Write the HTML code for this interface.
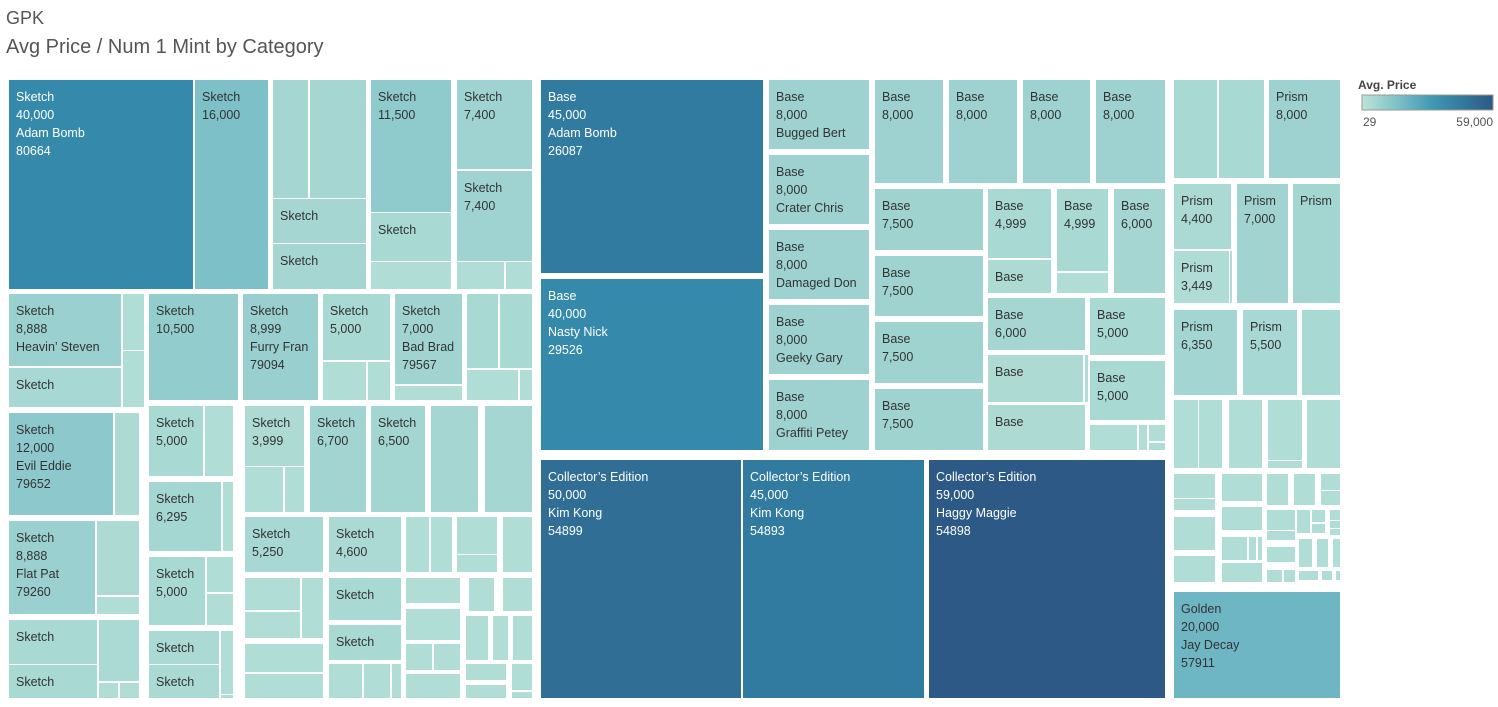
<!DOCTYPE html>
<html><head><meta charset="utf-8">
<style>
body{margin:0;background:#fff;width:1498px;height:707px;overflow:hidden;font-family:"Liberation Sans",sans-serif;}
#t1{position:absolute;left:6px;top:8px;font-size:18px;color:#555;}
#t2{position:absolute;left:6px;top:36px;font-size:20px;color:#555;}
</style></head><body>
<div id="t1">GPK</div>
<div id="t2">Avg Price / Num 1 Mint by Category</div>
<svg id="chart" width="1498" height="707" style="position:absolute;left:0;top:0">
<defs><linearGradient id="lg" x1="0" x2="1"><stop offset="0" stop-color="#bce4d8"/><stop offset="0.27" stop-color="#7ec0c8"/><stop offset="0.55" stop-color="#3d96b2"/><stop offset="1" stop-color="#2c5985"/></linearGradient></defs>
<g id="cells"></g>
<g>
<text x="1358" y="89" font-size="12" font-weight="bold" fill="#444">Avg. Price</text>
<rect x="1362" y="95" width="131" height="15" fill="url(#lg)" stroke="#999"/>
<text x="1363" y="126" font-size="12" fill="#555">29</text>
<text x="1493" y="126" font-size="12" fill="#555" text-anchor="end">59,000</text>
</g>
</svg>
<script>
// Avg price per cell (color), label per cell, and treemap layout rects
const priceMin = 29, priceMax = 59000;
const prices = [
40000,16000,6000,6000,6000,6000,11500,5000,3000,7400,7400,3000,3000,
8888,5500,3000,3000,10500,8999,5000,3000,3000,7000,3000,5000,5000,3000,3000,
12000,4000,8888,4000,3000,5000,5000,4500,3000,3000,
5000,3000,6295,3000,5000,3000,3000,4500,4500,3000,3000,
3999,3000,3000,6700,6500,6000,6000,
5250,4600,3000,3000,3000,3000,3000,3000,3000,3000,5000,5000,3000,3000,3000,
3000,3000,3000,3000,3000,3000,3000,3000,3000,3000,3000,3000,3000,3000,3000,3000,
45000,40000,8000,8000,8000,8000,8000,8000,8000,8000,8000,7500,7500,7500,7500,
4999,4000,4999,3000,6000,6000,5000,4000,3000,5000,4000,3000,3000,3000,3000,
50000,45000,59000,
5000,5000,8000,4400,3449,3000,7000,6500,6350,5500,5000,
3000,3000,3000,3000,3000,3000,3000,3000,3000,3000,3000,3000,3000,
3000,3000,3000,3000,3000,3000,3000,3000,3000,3000,3000,3000,3000,
3000,3000,3000,3000,3000,3000,3000,3000,3000,3000,3000,
20000];
const labels = [
"Sketch|40,000|Adam Bomb|80664","Sketch|16,000","","","Sketch","Sketch","Sketch|11,500","Sketch","","Sketch|7,400","Sketch|7,400","","",
"Sketch|8,888|Heavin’ Steven","Sketch","","","Sketch|10,500","Sketch|8,999|Furry Fran|79094","Sketch|5,000","","","Sketch|7,000|Bad Brad|79567","","","","","",
"Sketch|12,000|Evil Eddie|79652","","Sketch|8,888|Flat Pat|79260","","","Sketch","Sketch","","","",
"Sketch|5,000","","Sketch|6,295","","Sketch|5,000","","","Sketch","Sketch","","",
"Sketch|3,999","","","Sketch|6,700","Sketch|6,500","","",
"Sketch|5,250","Sketch|4,600","","","","","","","","","Sketch","Sketch","","","",
"","","","","","","","","","","","","","","","",
"Base|45,000|Adam Bomb|26087","Base|40,000|Nasty Nick|29526","Base|8,000|Bugged Bert","Base|8,000|Crater Chris","Base|8,000|Damaged Don","Base|8,000|Geeky Gary","Base|8,000|Graffiti Petey","Base|8,000","Base|8,000","Base|8,000","Base|8,000","Base|7,500","Base|7,500","Base|7,500","Base|7,500",
"Base|4,999","Base","Base|4,999","","Base|6,000","Base|6,000","Base|5,000","Base","","Base|5,000","Base","","","","",
"Collector’s Edition|50,000|Kim Kong|54899","Collector’s Edition|45,000|Kim Kong|54893","Collector’s Edition|59,000|Haggy Maggie|54898",
"","","Prism|8,000","Prism|4,400","Prism|3,449","","Prism|7,000","Prism","Prism|6,350","Prism|5,500","",
"","","","","","","","","","","","","",
"","","","","","","","","","","","","",
"","","","","","","","","","","",
"Golden|20,000|Jay Decay|57911"];
const rects = [
[9,80,193,289],[195,80,268,289],[273,80,308,198],[310,80,366,198],[273,199,366,243],[273,244,366,289],[371,80,451,212],[371,213,451,261],[371,262,451,289],[457,80,532,169],[457,171,532,261],[457,262,504,289],[506,262,532,289],
[9,294,121,366],[9,368,121,407],[123,294,144,350],[123,351,144,407],[149,294,238,400],[243,294,318,400],[323,294,390,360],[323,362,366,400],[368,362,390,400],[395,294,462,384],[395,386,462,400],[467,294,498,368],[500,294,532,368],[467,370,518,400],[520,370,532,400],
[9,413,113,515],[115,413,139,515],[9,521,95,614],[97,521,139,595],[97,597,139,614],[9,620,97,664],[9,665,97,698],[99,620,139,681],[99,683,118,698],[120,683,139,698],
[149,406,203,476],[205,406,233,476],[149,482,221,551],[223,482,233,551],[149,557,205,625],[207,557,233,592],[207,594,233,625],[149,631,219,664],[149,665,219,698],[221,631,233,694],[221,695,233,698],
[245,406,304,466],[245,467,283,512],[285,467,304,512],[310,406,366,512],[371,406,425,512],[431,406,478,512],[485,406,532,512],
[245,517,323,572],[329,517,401,572],[406,517,429,572],[431,517,452,572],[457,517,497,554],[457,555,497,572],[503,517,532,572],[245,578,300,610],[245,612,300,638],[302,578,323,638],[329,578,401,620],[329,625,401,660],[406,578,460,603],[469,578,494,611],[503,578,532,611],
[245,644,323,672],[245,674,323,698],[329,664,362,698],[364,664,390,698],[392,664,401,698],[406,609,460,640],[406,644,432,670],[434,644,460,670],[406,674,460,698],[466,616,488,660],[493,616,508,660],[513,616,532,660],[466,664,506,680],[466,685,506,698],[512,664,532,690],[512,692,532,698],
[541,80,763,273],[541,279,763,450],[769,80,869,149],[769,155,869,224],[769,230,869,299],[769,305,869,374],[769,380,869,450],[875,80,943,183],[949,80,1017,183],[1023,80,1090,183],[1096,80,1165,183],[875,189,983,250],[875,256,983,316],[875,322,983,383],[875,389,983,450],
[988,189,1051,258],[988,260,1051,293],[1057,189,1108,271],[1057,273,1108,293],[1114,189,1165,293],[988,298,1085,350],[1090,298,1165,355],[988,355,1083,402],[1085,355,1088,402],[1090,361,1165,420],[988,405,1085,450],[1090,425,1137,450],[1139,425,1147,450],[1149,425,1165,441],[1149,443,1165,450],
[541,460,741,698],[743,460,924,698],[929,460,1165,698],
[1174,80,1217,178],[1219,80,1264,178],[1269,80,1340,178],[1174,184,1231,249],[1174,251,1229,303],[1230,251,1232,303],[1237,184,1288,303],[1293,184,1340,303],[1174,310,1237,395],[1243,310,1297,395],[1302,310,1340,395],
[1174,400,1198,468],[1199,400,1222,468],[1229,400,1262,468],[1268,400,1302,460],[1268,461,1302,468],[1307,400,1340,468],[1174,474,1215,498],[1174,499,1215,510],[1222,474,1262,501],[1267,474,1288,505],[1294,474,1315,505],[1321,474,1340,490],[1321,491,1340,505],
[1174,517,1215,550],[1222,507,1262,530],[1222,537,1247,560],[1249,537,1256,560],[1258,537,1262,560],[1267,510,1295,530],[1267,531,1295,540],[1297,510,1310,533],[1312,510,1325,522],[1312,524,1325,533],[1330,510,1340,520],[1330,521,1340,528],[1330,529,1340,535],
[1174,556,1215,582],[1222,563,1262,582],[1267,547,1295,562],[1267,570,1282,582],[1284,570,1295,582],[1299,539,1312,567],[1317,539,1328,567],[1333,539,1340,567],[1299,571,1318,580],[1322,571,1332,580],[1336,571,1340,580],
[1174,592,1340,698]];
const stops=[[0,[188,228,216]],[0.135,[157,210,208]],[0.27,[126,192,200]],[0.5,[72,160,185]],[0.68,[53,137,170]],[0.76,[50,123,160]],[0.85,[48,110,150]],[1,[44,89,133]]];
function colorScale(p){
  const t=Math.max(0,Math.min(1,(p-priceMin)/(priceMax-priceMin)));
  for(let i=1;i<stops.length;i++){ if(t<=stops[i][0]){ const a=stops[i-1],b=stops[i],f=(t-a[0])/(b[0]-a[0]);
    return 'rgb('+a[1].map((v,k)=>Math.round(v+(b[1][k]-v)*f)).join(',')+')'; } }
  return 'rgb(44,89,133)';
}
const NS='http://www.w3.org/2000/svg', g=document.getElementById('cells');
rects.forEach((r,i)=>{
  const p=prices[i];
  const rect=document.createElementNS(NS,'rect');
  rect.setAttribute('x',r[0]);rect.setAttribute('y',r[1]);
  rect.setAttribute('width',r[2]-r[0]);rect.setAttribute('height',r[3]-r[1]);
  rect.setAttribute('fill',colorScale(p));
  
  
  g.appendChild(rect);
  if(labels[i]){
    const tx=document.createElementNS(NS,'text');
    tx.setAttribute('font-size','12.5');
    tx.setAttribute('fill',p>20000?'#ffffff':'#333333');
    
    
    labels[i].split('|').forEach((s,k)=>{
      const ts=document.createElementNS(NS,'tspan');
      ts.setAttribute('x',r[0]+7);ts.setAttribute('y',r[1]+21+k*18);
      ts.textContent=s;tx.appendChild(ts);
    });
    g.appendChild(tx);
  }
});
</script>
</body></html>
